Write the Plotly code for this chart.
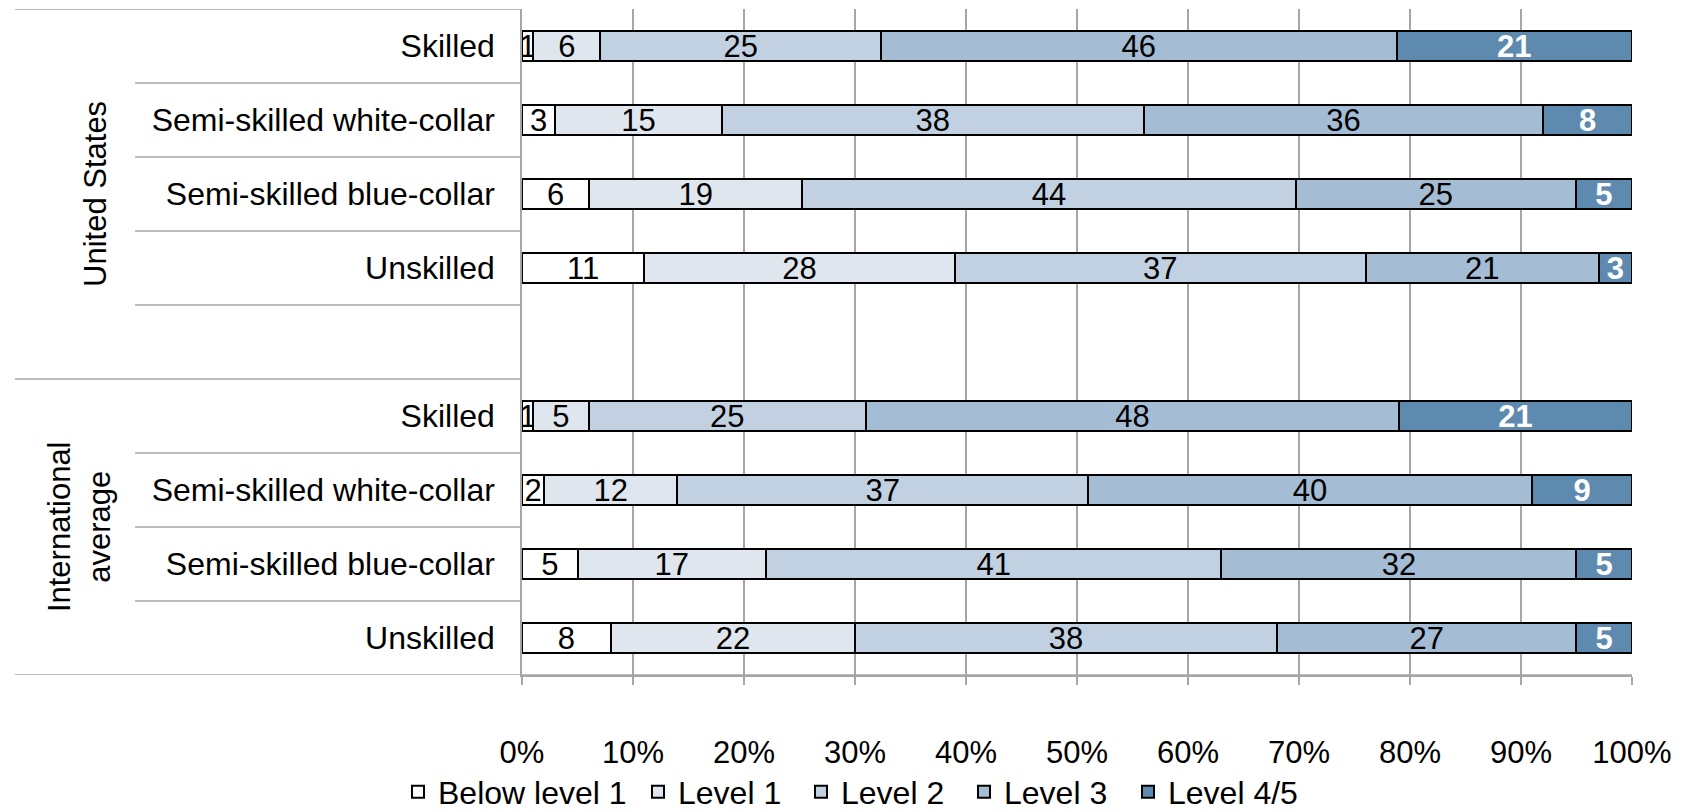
import plotly.graph_objects as go

# ---- data ----
categories = ["Skilled", "Semi-skilled white-collar", "Semi-skilled blue-collar", "Unskilled"]
groups = ["United States", "International<br>average"]
levels = ["Below level 1", "Level 1", "Level 2", "Level 3", "Level 4/5"]

us_below = [1, 3, 6, 11]
us_l1 = [6, 15, 19, 28]
us_l2 = [25, 38, 44, 37]
us_l3 = [46, 36, 25, 21]
us_l45 = [21, 8, 5, 3]

intl_below = [1, 2, 5, 8]
intl_l1 = [5, 12, 17, 22]
intl_l2 = [25, 37, 41, 38]
intl_l3 = [48, 40, 32, 27]
intl_l45 = [21, 9, 5, 5]

x_ticks = [0, 10, 20, 30, 40, 50, 60, 70, 80, 90, 100]
x_tick_labels = [f"{v}%" for v in x_ticks]

# ---- styles ----
colors = ["#ffffff", "#dfe6ee", "#c2d1e2", "#a4bcd4", "#5f8ab0"]
text_colors = ["#000000", "#000000", "#000000", "#000000", "#ffffff"]
FONT = "Liberation Sans, Arial, sans-serif"
GRID = "#a6a6a6"
FS = 31
W, H = 1696, 812
legend_left_px = [398, 638, 801, 964, 1128]   # left edge of each legend box (px)

n = len(categories)
us_pos = list(range(n))
intl_pos = [i + n + 1 for i in range(n)]
positions = us_pos + intl_pos
labels = categories + categories

series = [
    us_below + intl_below,
    us_l1 + intl_l1,
    us_l2 + intl_l2,
    us_l3 + intl_l3,
    us_l45 + intl_l45,
]

fig = go.Figure()
legend_ids = ["legend"] + [f"legend{k}" for k in range(2, len(levels) + 1)]
for i, (name, vals) in enumerate(zip(levels, series)):
    fig.add_trace(go.Bar(
        name=name,
        x=vals,
        y=positions,
        orientation="h",
        width=0.41,
        marker=dict(color=colors[i], line=dict(color="#000000", width=2)),
        text=[str(v) for v in vals],
        texttemplate="%{text}",
        textposition="inside",
        insidetextanchor="middle",
        textangle=0,
        textfont=dict(family=FONT, size=FS, color=text_colors[i],
                      weight="bold" if i == 4 else "normal"),
        cliponaxis=False,
        hoverinfo="skip",
        legend=legend_ids[i],
    ))

# separator lines on the left label area
lo, hi = -0.5, positions[-1] + 0.5
full_left = -0.4568
inner_left = -0.3486
shapes = []
for b in [lo + k for k in range(int(hi - lo) + 1)]:
    if b in (lo, n + 0.5, hi):
        x0 = full_left
    else:
        x0 = inner_left
    x1 = 1 if b == hi else 0
    shapes.append(dict(type="line", xref="paper", yref="y", x0=x0, x1=x1, y0=b, y1=b,
                       line=dict(color=GRID, width=1.5), layer="below"))

annotations = [
    dict(text=groups[0], xref="paper", yref="y", x=-0.3847, y=(lo + n + 0.5) / 2,
         textangle=-90, showarrow=False, font=dict(family=FONT, size=FS, color="#000000"),
         xanchor="center", yanchor="middle"),
    dict(text=groups[1], xref="paper", yref="y", x=-0.3990, y=(n + 0.5 + hi) / 2,
         textangle=-90, showarrow=False, font=dict(family=FONT, size=FS, color="#000000"),
         xanchor="center", yanchor="middle"),
]

legend_style = dict(orientation="h", xref="container", yref="container",
                    xanchor="left", y=0.0246, yanchor="middle",
                    font=dict(family=FONT, size=32, color="#000000"),
                    itemwidth=30, bgcolor="rgba(0,0,0,0)")
legends = {}
for lid, px in zip(legend_ids, legend_left_px):
    legends[lid] = dict(legend_style, x=px / W)

fig.update_layout(
    width=W, height=H,
    margin=dict(l=522, r=64, t=9, b=137, autoexpand=False),
    barmode="stack",
    barnorm="percent",
    plot_bgcolor="#ffffff",
    paper_bgcolor="#ffffff",
    font=dict(family=FONT, size=FS, color="#000000"),
    uniformtext=dict(mode="show", minsize=FS),
    showlegend=True,
    shapes=shapes,
    annotations=annotations,
    **legends,
)

fig.update_xaxes(
    range=[0, 100.001],
    tickvals=x_ticks,
    ticktext=x_tick_labels,
    showgrid=True, gridcolor=GRID, gridwidth=1.5,
    showline=True, linecolor=GRID, linewidth=1.5,
    ticks="outside", ticklen=8, tickcolor=GRID, tickwidth=1.5,
    ticklabelstandoff=41,
    zeroline=False,
    automargin=False,
    tickfont=dict(family=FONT, size=FS, color="#000000"),
)
fig.update_yaxes(
    range=[hi, lo],
    tickvals=positions,
    ticktext=labels,
    showgrid=False,
    showline=True, linecolor=GRID, linewidth=1.5,
    ticks="", ticklabelstandoff=19,
    zeroline=False,
    automargin=False,
    tickfont=dict(family=FONT, size=32, color="#000000"),
)

fig.write_html(
    "out.html",
    config={"displayModeBar": False},
    post_script="document.body.style.margin='0';document.body.style.overflow='hidden';",
)
